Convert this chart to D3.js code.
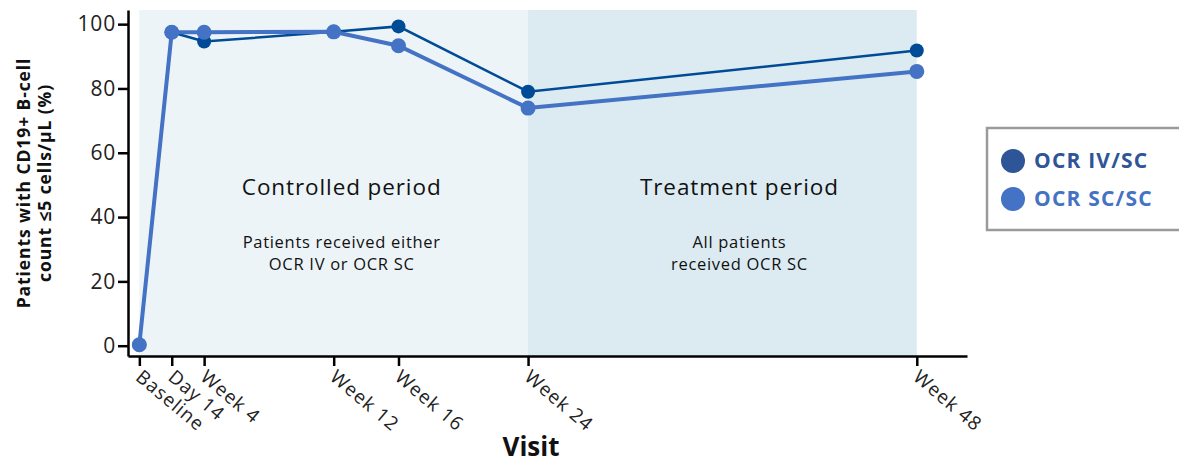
<!DOCTYPE html>
<html>
<head>
<meta charset="utf-8">
<script src="https://cdn.jsdelivr.net/npm/d3@7"></script>
<style>
  body { margin: 0; background: #fff; }
  text { font-family: "Open Sans", "Noto Sans", sans-serif; }
</style>
</head>
<body>
<div id="container"></div>
<script>
const width = 1179
const height = 463

// visits, placed by study week
const visits = ["Baseline", "Day 14", "Week 4", "Week 12", "Week 16", "Week 24", "Week 48"]
const visitWeeks = [0, 2, 4, 12, 16, 24, 48]

const ivsc = [0.3, 97.5, 94.6, 97.6, 99.3, 79.0, 91.8]
const scsc = [0.3, 97.5, 97.5, 97.6, 93.3, 73.9, 85.3]

const yTicks = [0, 20, 40, 60, 80, 100]

const periodNames = ["Controlled period", "Treatment period"]
const periodBounds = [[0, 24], [24, 48]]
const periodNotes = [["Patients received either", "OCR IV or OCR SC"], ["All patients", "received OCR SC"]]
const periodFills = ["#ecf4f8", "#dcebf1"]
const labelShift = [8, 17]

const series = [
    { name: "OCR IV/SC", values: ivsc, color: "#004b96", legend: "#2e5597", width: 2.5, r: 7 },
    { name: "OCR SC/SC", values: scsc, color: "#4472c4", legend: "#4472c4", width: 4, r: 7.5 },
]

const x = d3.scaleLinear().domain([-0.7, 51.1]).range([128, 967])
const y = d3.scaleLinear().domain([-3.2, 104.4]).range([356, 10])

const svg = d3.select('#container')
    .append('svg').attr('width', width).attr('height', height)

// shaded periods
periodNames.forEach((name, k) => {
    const [from, to] = periodBounds[k]
    svg.append("rect")
        .attr("x", x(from)).attr("y", y.range()[1])
        .attr("width", x(to) - x(from))
        .attr("height", y.range()[0] - y.range()[1])
        .attr("fill", periodFills[k])
    const cx = (x(from) + x(to)) / 2 + labelShift[k]
    svg.append("text")
        .attr("x", cx).attr("y", 195)
        .attr("text-anchor", "middle")
        .attr("font-size", 22.5)
        .attr("letter-spacing", 0.9)
        .attr("fill", "#111")
        .text(name)
    periodNotes[k].forEach((l, i) => {
        svg.append("text")
            .attr("x", cx).attr("y", 248 + i * 22)
            .attr("text-anchor", "middle")
            .attr("font-size", 16.5)
            .attr("letter-spacing", 0.7)
            .attr("fill", "#111")
            .text(l)
    })
})

// axes
const yAxis = svg.append("g")
    .attr("transform", "translate(128,0)")
    .call(d3.axisLeft(y).tickValues(yTicks).tickSize(10).tickSizeOuter(0))
yAxis.select(".domain").attr("stroke-width", 2.5)
yAxis.selectAll(".tick line").attr("stroke-width", 2.5)
yAxis.selectAll(".tick text")
    .attr("font-size", 21).attr("fill", "#222").attr("x", -12).attr("letter-spacing", 0.8)

const xAxis = svg.append("g")
    .attr("transform", "translate(0,356)")
    .call(d3.axisBottom(x).tickValues(visitWeeks).tickFormat((d, i) => visits[i]).tickSize(10).tickSizeOuter(0))
xAxis.select(".domain").attr("stroke-width", 2.5)
xAxis.selectAll(".tick line").attr("stroke-width", 2.5)
xAxis.selectAll(".tick text")
    .attr("font-size", 19).attr("fill", "#222")
    .attr("letter-spacing", 1)
    .attr("text-anchor", "start")
    .attr("dy", 0)
    .attr("transform", "translate(3,13) rotate(40)")

svg.append("text")
    .attr("x", 531).attr("y", 456)
    .attr("text-anchor", "middle")
    .attr("font-size", 26).attr("font-weight", "bold").attr("fill", "#111")
    .text("Visit")

const yLabel = svg.append("text")
    .attr("transform", "translate(0,183) rotate(-90)")
    .attr("text-anchor", "middle")
    .attr("font-size", 17.5).attr("font-weight", "bold").attr("fill", "#111")
    .attr("letter-spacing", 0.9)
yLabel.append("tspan").attr("x", 0).attr("y", 30).text("Patients with CD19+ B-cell")
yLabel.append("tspan").attr("x", 0).attr("y", 51).text("count \u22645 cells/\u00b5L (%)")

// lines and markers
const line = d3.line()
    .x((d, i) => x(visitWeeks[i]))
    .y(d => y(d))

series.forEach(s => {
    svg.append("path")
        .attr("d", line(s.values))
        .attr("fill", "none")
        .attr("stroke", s.color)
        .attr("stroke-width", s.width)
    svg.selectAll(null).data(s.values).enter()
        .append("circle")
        .attr("cx", (d, i) => x(visitWeeks[i]))
        .attr("cy", d => y(d))
        .attr("r", s.r)
        .attr("fill", s.color)
})

// legend
svg.append("rect")
    .attr("x", 987).attr("y", 128).attr("width", 200).attr("height", 102)
    .attr("fill", "#fff").attr("stroke", "#9a9a9a").attr("stroke-width", 2.5)
series.forEach((s, i) => {
    svg.append("circle")
        .attr("cx", 1013).attr("cy", 161 + i * 38).attr("r", 12)
        .attr("fill", s.legend)
    svg.append("text")
        .attr("x", 1034).attr("y", 168 + i * 38)
        .attr("font-size", 21).attr("font-weight", "bold")
        .attr("letter-spacing", 1.2)
        .attr("fill", s.legend)
        .text(s.name)
})
</script>
</body>
</html>
